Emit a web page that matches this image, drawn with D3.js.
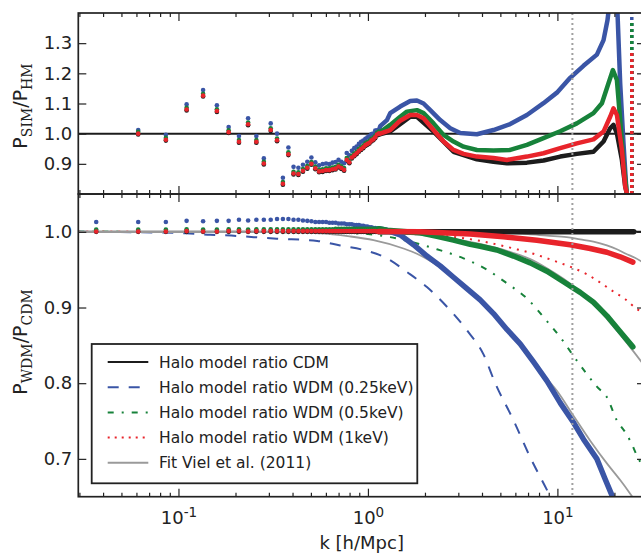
<!DOCTYPE html>
<html>
<head>
<meta charset="utf-8">
<script src="https://cdn.jsdelivr.net/npm/d3@7"></script>
<style>
  body { margin: 0; background: #fff; }
  svg { display: block; font-family: "DejaVu Sans", sans-serif; }
</style>
</head>
<body>
<div id="chart"></div>
<script>
// ---- data ----
// low-k bins (separate markers)
var kBins = [0.0368, 0.0613, 0.0858, 0.1104, 0.1349, 0.1595, 0.1840, 0.2086, 0.2331, 0.2577,
  0.2822, 0.3068, 0.3313, 0.3558, 0.3804, 0.4049, 0.4295, 0.4540, 0.4786, 0.5031,
  0.5277, 0.5522, 0.5768, 0.6013, 0.6258, 0.6504, 0.6749, 0.6995, 0.7240, 0.7486,
  0.7731, 0.7977, 0.8222, 0.8467, 0.8713, 0.8958, 0.9204, 0.9449, 0.9695, 0.9940,
  1.0186, 1.0431, 1.0677, 1.0922, 1.1167, 1.1413];

// top panel P_SIM/P_HM, low k
var topBlue = [null, 1.012, 0.996, 1.097, 1.145, 1.094, 1.022, 0.992, 1.051, 0.992, 0.918, 1.034, 1.000, 0.854, 0.954,
  0.890, 0.887, 0.897, 0.907, 0.921, 0.905, 0.895, 0.899, 0.901, 0.899, 0.904, 0.906, 0.913, 0.907, 0.902,
  0.936, 0.928, 0.943, 0.952, 0.957, 0.966, 0.973, 0.977, 0.983, 0.988, 0.992, 0.999, 1.000, 1.010, 1.011, 1.010];
var topGreen = [null, 1.006, 0.986, 1.086, 1.132, 1.081, 1.011, 0.979, 1.037, 0.979, 0.907, 1.018, 0.984, 0.840, 0.938,
  0.874, 0.872, 0.883, 0.893, 0.906, 0.891, 0.881, 0.882, 0.885, 0.885, 0.888, 0.890, 0.897, 0.892, 0.886,
  0.919, 0.911, 0.927, 0.934, 0.941, 0.949, 0.955, 0.961, 0.968, 0.972, 0.976, 0.983, 0.987, 0.994, 1.003, 1.006];
var topRed = [null, 1.000, 0.980, 1.080, 1.126, 1.075, 1.005, 0.973, 1.031, 0.973, 0.901, 1.012, 0.978, 0.834, 0.932,
  0.868, 0.866, 0.877, 0.887, 0.900, 0.885, 0.875, 0.876, 0.879, 0.879, 0.882, 0.884, 0.891, 0.886, 0.880,
  0.913, 0.905, 0.921, 0.928, 0.935, 0.943, 0.949, 0.955, 0.962, 0.966, 0.970, 0.977, 0.981, 0.988, 0.997, 1.000];
var topBlack = [null, 0.997, 0.977, 1.077, 1.123, 1.072, 1.002, 0.970, 1.028, 0.970, 0.898, 1.009, 0.975, 0.831, 0.929,
  0.865, 0.863, 0.874, 0.884, 0.897, 0.882, 0.872, 0.873, 0.876, 0.876, 0.879, 0.881, 0.888, 0.883, 0.877,
  0.910, 0.902, 0.918, 0.925, 0.932, 0.940, 0.946, 0.952, 0.959, 0.963, 0.967, 0.974, 0.978, 0.985, 0.994, 0.997];

// top panel, dense part [k, ratio]
var topBlueDense = [[1.1413, 1.010], [1.161, 1.025], [1.26, 1.045], [1.311, 1.068], [1.48, 1.090], [1.672, 1.108],
  [1.814, 1.110], [1.966, 1.100], [2.133, 1.078], [2.407, 1.045], [2.719, 1.018], [3.07, 1.002], [3.76, 0.998],
  [4.6, 1.012], [5.636, 1.032], [6.904, 1.062], [8.446, 1.101], [9.94, 1.136], [11.68, 1.185], [13.73, 1.225],
  [16.16, 1.262], [17.52, 1.31], [18.38, 1.376], [18.99, 1.45], [19.77, 1.6], [20.76, 1.40], [21.45, 1.167],
  [22.33, 0.968], [23.07, 0.825], [23.55, 0.75], [24.4, 0.74]];
var topGreenDense = [[1.1413, 1.006], [1.161, 1.005], [1.311, 1.029], [1.48, 1.056], [1.606, 1.073], [1.814, 1.078],
  [1.966, 1.068], [2.22, 1.034], [2.506, 0.996], [2.829, 0.974], [3.196, 0.957], [3.76, 0.946], [4.6, 0.944],
  [5.636, 0.946], [6.904, 0.963], [8.446, 0.985], [10.35, 1.008], [12.67, 1.034], [15.5, 1.068], [17.18, 1.101],
  [18.61, 1.167], [19.63, 1.211], [20.61, 1.178], [21.45, 1.045], [22.33, 0.905], [23.27, 0.80], [24.4, 0.74]];
var topRedDense = [[1.1413, 1.000], [1.161, 1.000], [1.311, 1.012], [1.48, 1.043], [1.672, 1.062], [1.814, 1.062],
  [1.966, 1.051], [2.22, 1.012], [2.506, 0.974], [2.829, 0.946], [3.196, 0.933], [3.76, 0.924], [4.6, 0.919],
  [5.414, 0.913], [6.904, 0.924], [8.446, 0.935], [10.35, 0.952], [12.67, 0.968], [15.5, 0.981], [17.52, 1.007],
  [18.99, 1.056], [19.77, 1.084], [20.61, 1.062], [21.9, 0.946], [22.8, 0.825], [23.72, 0.78], [24.4, 0.74]];
var topBlackDense = [[1.1413, 0.997], [1.311, 1.007], [1.672, 1.056], [1.814, 1.056], [2.22, 1.007], [2.829, 0.940],
  [3.76, 0.915], [4.6, 0.907], [5.414, 0.902], [6.904, 0.904], [8.446, 0.911], [10.35, 0.924], [12.67, 0.933],
  [15.5, 0.940], [17.52, 0.974], [18.99, 1.018], [19.77, 1.029], [20.61, 1.001], [21.9, 0.913], [22.8, 0.825],
  [23.72, 0.78], [24.4, 0.74]];
// steep upturn at the last bins: k, top value (black, blue, green, red)
var riseK = 24.7;
var riseTop = [1.211, 1.40, 1.376, 1.267];

// bottom panel P_WDM/P_CDM, low k
var botBlue = [1.013, 1.013, 1.013, 1.0145, 1.014, 1.0145, 1.0145, 1.016, 1.015, 1.016, 1.016, 1.016, 1.017, 1.017,
  1.017, 1.016, 1.016, 1.015, 1.0145, 1.014, 1.013, 1.013, 1.013, 1.013, 1.012, 1.012, 1.012, 1.011, 1.011, 1.011,
  1.010, 1.010, 1.010, 1.009, 1.009, 1.009, 1.008, 1.008, 1.007, 1.007, 1.006, 1.006, 1.005, 1.005, 1.004, 1.004];
var botGreen = [1.003, 1.003, 1.003, 1.0035, 1.003, 1.003, 1.0035, 1.0035, 1.003, 1.0035, 1.0035, 1.0035, 1.0035, 1.0035,
  1.0035, 1.0035, 1.0035, 1.0035, 1.0035, 1.0035, 1.0035, 1.0035, 1.0035, 1.0035, 1.0035, 1.0035, 1.004, 1.004, 1.004, 1.004,
  1.004, 1.004, 1.004, 1.004, 1.004, 1.004, 1.004, 1.004, 1.004, 1.004, 1.004, 1.004, 1.004, 1.004, 1.004, 1.004];
var botRed = [1.0005, 1.0005, 1.0005, 1.001, 1.0005, 1.0005, 1.001, 1.001, 1.0005, 1.001, 1.001, 1.001, 1.001, 1.001,
  1.001, 1.001, 1.001, 1.001, 1.001, 1.001, 1.001, 1.001, 1.001, 1.001, 1.001, 1.001, 1.001, 1.001, 1.001, 1.001,
  1.001, 1.001, 1.001, 1.001, 1.001, 1.001, 1.001, 1.001, 1.001, 1.001, 1.001, 1.001, 1.001, 1.001, 1.0005, 1.0005];
var botBlack = [1, 1, 1, 1, 1, 1, 1, 1, 1, 1, 1, 1, 1, 1, 1, 1, 1, 1, 1, 1, 1, 1, 1,
  1, 1, 1, 1, 1, 1, 1, 1, 1, 1, 1, 1, 1, 1, 1, 1, 1, 1, 1, 1, 1, 1, 1];

// bottom panel, dense part
var botBlackDense = [[1.1413, 1.0], [25.3, 1.0]];
var botRedDense = [[1.1413, 1.0005], [1.888, 1.000], [3.466, 0.997], [5.195, 0.9934], [7.796, 0.989], [11.68, 0.983],
  [14.9, 0.978], [18.25, 0.973], [21.45, 0.967], [25.02, 0.960]];
var botGreenDense = [[1.1413, 1.004], [1.26, 1.002], [1.888, 0.9987], [2.312, 0.994], [2.829, 0.989], [3.466, 0.9834],
  [3.913, 0.981], [4.794, 0.976], [5.866, 0.968], [7.187, 0.959], [8.804, 0.948], [10.77, 0.934], [13.19, 0.920],
  [15.5, 0.907], [18.25, 0.889], [21.45, 0.868], [25.02, 0.848]];
var botBlueDense = [[1.1413, 1.004], [1.26, 1.002], [1.48, 0.996], [1.74, 0.983], [2.048, 0.968], [2.407, 0.955],
  [2.829, 0.940], [3.33, 0.925], [3.913, 0.910], [4.6, 0.892], [5.414, 0.871], [6.364, 0.852], [7.481, 0.828],
  [8.804, 0.803], [10.35, 0.774], [12.16, 0.748], [13.73, 0.726], [16.16, 0.700], [17.88, 0.673], [19.39, 0.652],
  [19.9, 0.640]];

// halo model ratios
var hmCDM = [[0.0296, 1.0], [29, 1.0]];
var hmWDM025 = [[0.0296, 1.0], [0.06, 0.9995], [0.11, 0.998], [0.147, 0.996], [0.19, 0.995], [0.25, 0.993], [0.33, 0.991],
  [0.54, 0.988], [0.714, 0.982], [0.948, 0.976], [1.26, 0.965], [1.606, 0.947], [2.048, 0.927], [2.612, 0.901],
  [3.33, 0.870], [4.074, 0.838], [4.697, 0.80], [5.866, 0.751], [7.187, 0.702], [8.804, 0.659], [9.73, 0.637]];
var hmWDM05 = [[0.0296, 1.0], [0.5, 0.9995], [1.0, 0.997], [1.311, 0.993], [1.672, 0.987], [2.312, 0.977], [3.196, 0.965],
  [4.246, 0.950], [5.414, 0.932], [6.904, 0.912], [8.804, 0.882], [10.77, 0.855], [12.16, 0.836], [14.31, 0.812],
  [16.16, 0.7955], [18.25, 0.7815], [20.61, 0.7507], [22.8, 0.7353], [24.43, 0.722], [26.27, 0.7045], [29, 0.685]];
var hmWDM1 = [[0.0296, 1.0], [1.0, 0.9995], [1.48, 0.998], [2.048, 0.996], [2.829, 0.9934], [3.913, 0.988], [5.866, 0.978],
  [7.481, 0.971], [9.537, 0.962], [11.93, 0.953], [14.31, 0.944], [16.83, 0.933], [19.77, 0.921], [22.8, 0.911],
  [26.27, 0.898], [29, 0.892]];

// fits, Viel et al. (2011)
var fit025 = [[0.0296, 1.0], [0.3, 0.9995], [0.56, 0.998], [0.8, 0.994], [1.07, 0.989], [1.54, 0.978], [1.814, 0.971],
  [2.048, 0.964], [2.407, 0.953], [2.829, 0.940], [3.33, 0.925], [3.913, 0.910], [4.6, 0.893], [5.414, 0.873],
  [6.364, 0.853], [7.481, 0.830], [8.804, 0.806], [9.94, 0.790], [12.16, 0.757], [14.9, 0.724], [18.25, 0.694],
  [21.45, 0.672], [24.22, 0.654], [25.5, 0.646]];
var fit05 = [[0.0296, 1.0], [1.0, 0.9995], [1.48, 0.998], [2.4, 0.993], [3.9, 0.984], [5.866, 0.972], [7.187, 0.964],
  [8.804, 0.952], [10.77, 0.938], [13.19, 0.921], [15.5, 0.905], [18.25, 0.885], [21.45, 0.864], [25.02, 0.843],
  [29, 0.822]];
var fit1 = [[0.0296, 1.0], [4.0, 0.9995], [7.0, 0.997], [8.8, 0.995], [11.2, 0.993], [13.2, 0.990], [15.5, 0.987],
  [18.25, 0.982], [20.6, 0.977], [23.0, 0.971], [25.5, 0.966], [29, 0.958]];

var kCut = 12;   // vertical dotted line

var xMajor = [0.1, 1, 10];
var xMajorExp = ["-1", "0", "1"];
var xMinor = [0.03, 0.04, 0.05, 0.06, 0.07, 0.08, 0.09, 0.2, 0.3, 0.4, 0.5, 0.6, 0.7, 0.8, 0.9,
  2, 3, 4, 5, 6, 7, 8, 9, 20];
var yTopTicks = [0.9, 1.0, 1.1, 1.2, 1.3];
var yBotTicks = [0.7, 0.8, 0.9, 1.0];

var legendLabels = ["Halo model ratio CDM", "Halo model ratio WDM (0.25keV)", "Halo model ratio WDM (0.5keV)",
  "Halo model ratio WDM (1keV)", "Fit Viel et al. (2011)"];

// ---- layout ----
var width = 641, height = 554;
var L = 78.3, R = 645, T1 = 13, B1 = 194, B2 = 496.7;
var cBlack = "#1c1c1c", cBlue = "#3a55a6", cGreen = "#17823a", cRed = "#e8242b", cGray = "#9a9a9a", ink = "#222";

var x = d3.scaleLog().domain([0.0296, 29]).range([L, R]);
var yTop = d3.scaleLinear().domain([0.8, 1.4]).range([B1, T1]);
var yBot = d3.scaleLinear().domain([0.65, 1.05]).range([B2, B1]);

var svg = d3.select("#chart").append("svg")
  .attr("width", width).attr("height", height);
svg.append("rect").attr("width", width).attr("height", height).attr("fill", "#fff");

var defs = svg.append("defs");
defs.append("clipPath").attr("id", "clipTop").append("rect")
  .attr("x", L).attr("y", T1).attr("width", R - L).attr("height", B1 - T1);
defs.append("clipPath").attr("id", "clipBot").append("rect")
  .attr("x", L).attr("y", B1).attr("width", R - L).attr("height", B2 - B1);

var gTop = svg.append("g").attr("clip-path", "url(#clipTop)");
var gBot = svg.append("g").attr("clip-path", "url(#clipBot)");

function lineFor(y, curve) {
  return d3.line()
    .x(function (d) { return x(d[0]) })
    .y(function (d) { return y(d[1]) })
    .curve(curve || d3.curveLinear);
}

function drawDots(g, y, vals, col) {
  var pts = kBins.map(function (k, i) { return [k, vals[i]] })
    .filter(function (d) { return d[1] != null });
  g.append("g").selectAll("circle")
    .data(pts)
    .enter().append("circle")
    .attr("cx", function (d) { return x(d[0]) })
    .attr("cy", function (d) { return y(d[1]) })
    .attr("r", 2.3)
    .attr("fill", col);
}

function drawDense(g, y, data, col, w) {
  g.append("path")
    .datum(data)
    .attr("d", lineFor(y))
    .attr("fill", "none")
    .attr("stroke", col)
    .attr("stroke-width", w || 4.5)
    .attr("stroke-linejoin", "round")
    .attr("stroke-linecap", "round");
}

// ---- top panel ----
gTop.append("path").datum(hmCDM).attr("d", lineFor(yTop))
  .attr("stroke", cBlack).attr("stroke-width", 2).attr("fill", "none");

var topSets = [
  [topBlack, topBlackDense, cBlack],
  [topBlue, topBlueDense, cBlue],
  [topGreen, topGreenDense, cGreen],
  [topRed, topRedDense, cRed]
];
topSets.forEach(function (s, i) {
  drawDots(gTop, yTop, s[0], s[2]);
  drawDense(gTop, yTop, s[1], s[2], 4.5);
  gTop.append("path").datum([[riseK, 0.78], [riseK, riseTop[i]]])
    .attr("d", lineFor(yTop))
    .attr("stroke", s[2]).attr("stroke-width", 3.5)
    .attr("stroke-dasharray", "3,3").attr("fill", "none");
});

// ---- bottom panel ----
var hmLines = [
  [hmCDM, cBlack, null, 2],
  [hmWDM025, cBlue, "11,10", 2],
  [hmWDM05, cGreen, "6,8,2,8", 2],
  [hmWDM1, cRed, "2,6", 2]
];
hmLines.forEach(function (h) {
  gBot.append("path").datum(h[0])
    .attr("d", lineFor(yBot, d3.curveMonotoneX))
    .attr("fill", "none")
    .attr("stroke", h[1])
    .attr("stroke-width", h[3])
    .attr("stroke-dasharray", h[2]);
});

[fit025, fit05, fit1].forEach(function (f) {
  gBot.append("path").datum(f)
    .attr("d", lineFor(yBot, d3.curveMonotoneX))
    .attr("fill", "none").attr("stroke", cGray).attr("stroke-width", 1.8);
});

var botSets = [
  [botBlack, botBlackDense, cBlack],
  [botBlue, botBlueDense, cBlue],
  [botGreen, botGreenDense, cGreen],
  [botRed, botRedDense, cRed]
];
botSets.forEach(function (s) {
  drawDots(gBot, yBot, s[0], s[2]);
  drawDense(gBot, yBot, s[1], s[2], 5.5);
});

// vertical dotted line through both panels
svg.append("line")
  .attr("x1", x(kCut)).attr("x2", x(kCut))
  .attr("y1", T1).attr("y2", B2)
  .attr("stroke", "#a0a0a0").attr("stroke-width", 2)
  .attr("stroke-dasharray", "2,3");

// ---- axes and frames ----
function styleAxis(g) {
  g.select(".domain").remove();
  g.selectAll(".tick line").attr("stroke", ink).attr("stroke-width", 1.2);
  g.selectAll(".tick text").attr("fill", ink).attr("font-size", 18)
    .attr("font-family", "DejaVu Sans");
}
var noLabel = function () { return "" };

function frame(y0, y1, yScale, yTicks, withXLabels) {
  // x ticks on bottom and top edges, pointing inward
  var gb = svg.append("g").attr("transform", "translate(0," + y1 + ")")
    .call(d3.axisBottom(x).tickValues(xMajor).tickSize(-8).tickSizeOuter(0).tickPadding(15)
      .tickFormat(noLabel));
  styleAxis(gb);
  if (withXLabels) {
    gb.selectAll(".tick text").each(function (d, i) {
      var t = d3.select(this).text(null);
      t.append("tspan").text("10");
      t.append("tspan").attr("dy", -7.5).attr("font-size", 13.5).text(xMajorExp[i]);
    });
  }
  styleAxis(svg.append("g").attr("transform", "translate(0," + y1 + ")")
    .call(d3.axisBottom(x).tickValues(xMinor).tickSize(-4).tickSizeOuter(0).tickFormat(noLabel)));
  styleAxis(svg.append("g").attr("transform", "translate(0," + y0 + ")")
    .call(d3.axisTop(x).tickValues(xMajor).tickSize(-8).tickSizeOuter(0).tickFormat(noLabel)));
  styleAxis(svg.append("g").attr("transform", "translate(0," + y0 + ")")
    .call(d3.axisTop(x).tickValues(xMinor).tickSize(-4).tickSizeOuter(0).tickFormat(noLabel)));
  // y ticks left (labelled) and right
  styleAxis(svg.append("g").attr("transform", "translate(" + L + ",0)")
    .call(d3.axisLeft(yScale).tickValues(yTicks).tickSize(-8).tickSizeOuter(0).tickPadding(6)
      .tickFormat(d3.format(".1f"))));
  styleAxis(svg.append("g").attr("transform", "translate(" + R + ",0)")
    .call(d3.axisRight(yScale).tickValues(yTicks).tickSize(-8).tickSizeOuter(0).tickFormat(noLabel)));
  svg.append("rect")
    .attr("x", L).attr("y", y0).attr("width", R - L).attr("height", y1 - y0)
    .attr("fill", "none").attr("stroke", ink).attr("stroke-width", 1.7);
}
frame(T1, B1, yTop, yTopTicks, false);
frame(B1, B2, yBot, yBotTicks, true);

// ---- axis titles ----
svg.append("text")
  .attr("x", (L + R) / 2).attr("y", 549)
  .attr("text-anchor", "middle").attr("font-size", 18).attr("fill", ink)
  .text("k [h/Mpc]");

function yTitle(cy, sub1, sub2) {
  var t = svg.append("text")
    .attr("transform", "translate(26.7," + cy + ") rotate(-90)")
    .attr("text-anchor", "middle").attr("font-size", 19).attr("fill", ink);
  t.append("tspan").text("P");
  t.append("tspan").attr("dy", 5).attr("font-size", 14).attr("font-family", "DejaVu Serif").text(sub1);
  t.append("tspan").attr("dy", -5).text("/P");
  t.append("tspan").attr("dy", 5).attr("font-size", 14).attr("font-family", "DejaVu Serif").text(sub2);
}
yTitle(106, "SIM", "HM");
yTitle(342, "WDM", "CDM");

// ---- legend ----
var lg = svg.append("g");
lg.append("rect")
  .attr("x", 91.7).attr("y", 344).attr("width", 325.6).attr("height", 139.3)
  .attr("fill", "#fff").attr("stroke", ink).attr("stroke-width", 1.8);
var legendStyles = [
  [cBlack, null, 2],
  [cBlue, "11,10", 2],
  [cGreen, "6,8,2,8", 2],
  [cRed, "2,5", 2],
  [cGray, null, 2]
];
legendLabels.forEach(function (lab, i) {
  var yy = 362 + i * 25.2;
  lg.append("line")
    .attr("x1", 107.7).attr("x2", 148.3).attr("y1", yy).attr("y2", yy)
    .attr("stroke", legendStyles[i][0]).attr("stroke-width", legendStyles[i][2])
    .attr("stroke-dasharray", legendStyles[i][1]);
  lg.append("text")
    .attr("x", 159).attr("y", yy).attr("dy", "0.36em")
    .attr("font-size", 15.5).attr("fill", ink)
    .text(lab);
});
</script>
</body>
</html>
